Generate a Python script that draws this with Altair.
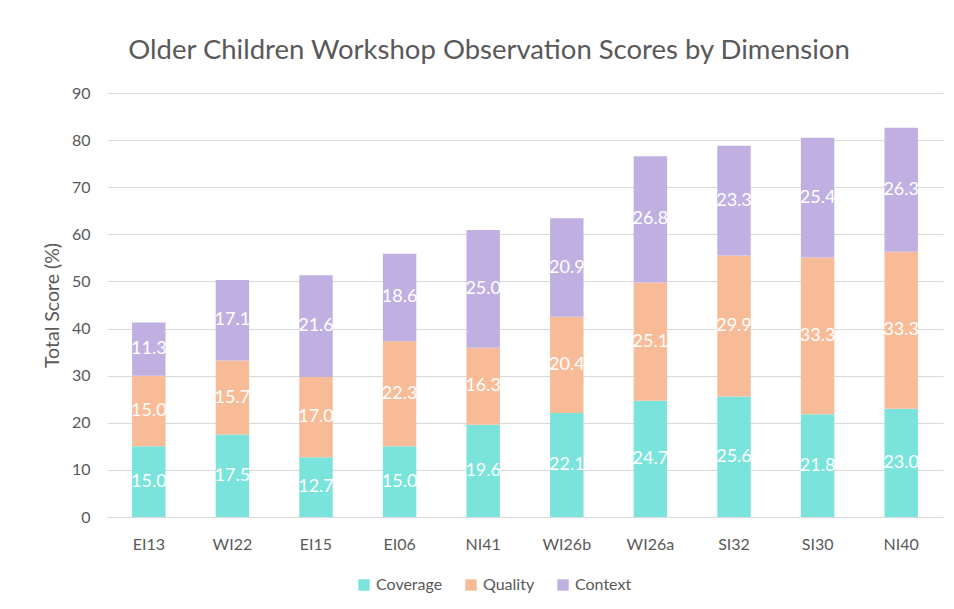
import altair as alt
import pandas as pd

categories = ["EI13", "WI22", "EI15", "EI06", "NI41", "WI26b", "WI26a", "SI32", "SI30", "NI40"]
coverage = [15.0, 17.5, 12.7, 15.0, 19.6, 22.1, 24.7, 25.6, 21.8, 23.0]
quality = [15.0, 15.7, 17.0, 22.3, 16.3, 20.4, 25.1, 29.9, 33.3, 33.3]
context = [11.3, 17.1, 21.6, 18.6, 25.0, 20.9, 26.8, 23.3, 25.4, 26.3]
series = ["Coverage", "Quality", "Context"]
colors = ["#7AE3DB", "#F8BB98", "#C0B0E2"]

rows = []
for i, c in enumerate(categories):
    for k, (s, vals) in enumerate(zip(series, [coverage, quality, context])):
        rows.append({"cat": c, "series": s, "value": vals[i], "order": k})
df = pd.DataFrame(rows)

FONT = "Lato"
GRAY = "#595959"
GRID = "#D9D9D9"

base = alt.Chart(df).transform_stack(
    stack="value", groupby=["cat"], as_=["y0", "y1"],
    sort=[alt.SortField("order", order="ascending")]
).transform_calculate(mid="(datum.y0 + datum.y1) / 2")

xenc = alt.X("cat:N", sort=categories, title=None,
             scale=alt.Scale(paddingInner=0.6, paddingOuter=0.3),
             axis=alt.Axis(labelAngle=0, labelFont=FONT, labelFontSize=16, labelColor=GRAY,
                           ticks=False, domainColor=GRID, labelPadding=19))

bars = base.mark_bar().encode(
    x=xenc,
    y=alt.Y("y0:Q", title="Total Score (%)",
            scale=alt.Scale(domain=[0, 90]),
            axis=alt.Axis(values=list(range(0, 91, 10)), labelFont=FONT, labelFontSize=16,
                          labelColor=GRAY, titleFont=FONT, titleFontSize=19.5, titleColor=GRAY,
                          titleFontWeight="normal", domain=False, ticks=False,
                          gridColor=GRID, labelPadding=17, titlePadding=9)),
    y2="y1:Q",
    color=alt.Color("series:N", sort=series,
                    scale=alt.Scale(domain=series, range=colors),
                    legend=alt.Legend(title=None, orient="none", direction="horizontal",
                                      legendX=249, legendY=484, symbolType="square",
                                      symbolSize=130, symbolStrokeWidth=0,
                                      labelFont=FONT, labelFontSize=16, labelColor=GRAY,
                                      columnPadding=20, labelOffset=4)),
)

labels = base.mark_text(color="white", font=FONT, fontSize=18, baseline="middle").encode(
    x=alt.X("cat:N", sort=categories),
    y=alt.Y("mid:Q"),
    text=alt.Text("value:Q", format=".1f"),
)

chart = alt.layer(bars, labels).properties(
    width=836, height=424,
    autosize=alt.AutoSizeParams(type="none"),
    padding={"left": 99, "top": 85, "right": 3, "bottom": 84},
    title=alt.TitleParams("Older Children Workshop Observation Scores by Dimension",
                          font=FONT, fontSize=27.5, fontWeight="normal", color=GRAY,
                          anchor="middle", frame="group", dx=-36, offset=21),
).configure(background="white").configure_view(stroke=None)

chart.save("out.html", embed_options={"renderer": "svg", "actions": False})
